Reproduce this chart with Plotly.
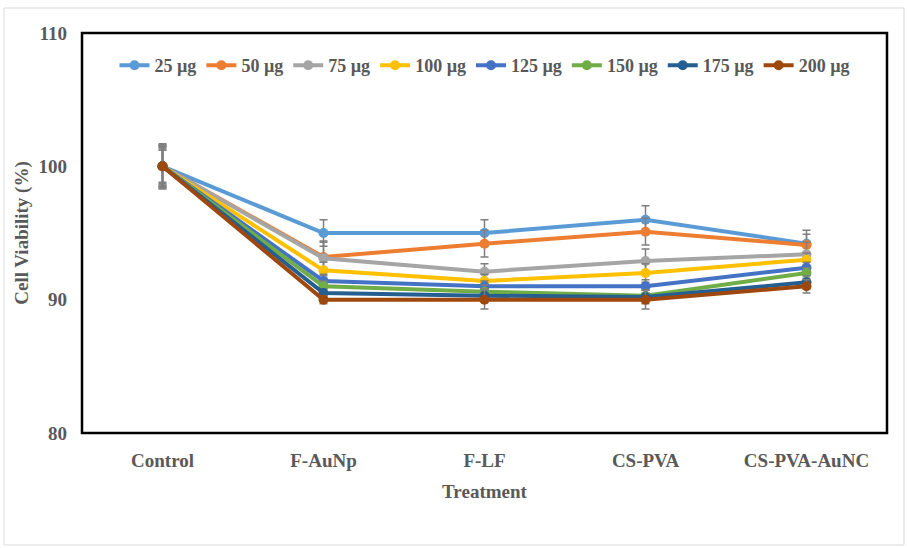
import plotly.graph_objects as go

treatments = ["Control", "F-AuNp", "F-LF", "CS-PVA", "CS-PVA-AuNC"]
doses = ["25 µg", "50 µg", "75 µg", "100 µg", "125 µg", "150 µg", "175 µg", "200 µg"]

viability_25 = [100, 95.0, 95.0, 96.0, 94.2]
viability_50 = [100, 93.2, 94.2, 95.1, 94.1]
viability_75 = [100, 93.1, 92.1, 92.9, 93.4]
viability_100 = [100, 92.2, 91.4, 92.0, 93.0]
viability_125 = [100, 91.4, 91.0, 91.0, 92.4]
viability_150 = [100, 91.0, 90.6, 90.3, 92.0]
viability_175 = [100, 90.5, 90.3, 90.2, 91.3]
viability_200 = [100, 90.0, 90.0, 90.0, 91.0]

err_25 = [1.5, 1.0, 1.0, 1.05, 1.0]
err_50 = [1.6, 1.1, 1.0, 1.0, 0.8]
err_75 = [1.4, 1.3, 0.6, 0.9, 0.9]
err_100 = [1.2, 0.6, 0.5, 0.7, 0.5]
err_125 = [1.3, 0.5, 0.4, 0.5, 0.4]
err_150 = [1.6, 0.4, 0.5, 0.4, 0.4]
err_175 = [1.5, 0.3, 0.5, 0.5, 0.5]
err_200 = [1.7, 0.3, 0.7, 0.7, 0.5]

series = [viability_25, viability_50, viability_75, viability_100,
          viability_125, viability_150, viability_175, viability_200]
errors = [err_25, err_50, err_75, err_100, err_125, err_150, err_175, err_200]
colors = ["#5B9BD5", "#ED7D31", "#A5A5A5", "#FFC000",
          "#4472C4", "#70AD47", "#255E91", "#9E480E"]

FONT = "Liberation Serif"
GRAY = "#595959"
SIZE = 19

fig = go.Figure()
for name, vals, errs, col in zip(doses, series, errors, colors):
    fig.add_trace(go.Scatter(
        x=treatments, y=vals, name=name,
        mode="lines+markers",
        line=dict(color=col, width=4),
        marker=dict(color=col, size=10),
        error_y=dict(type="data", array=errs, visible=True,
                     color="#7F7F7F", thickness=1.5, width=4),
    ))

fig.update_layout(
    width=907, height=548,
    margin=dict(l=82, r=20, t=33, b=115),
    paper_bgcolor="white", plot_bgcolor="white",
    font=dict(family=FONT, color=GRAY, size=SIZE, weight="bold"),
    showlegend=True,
    legend=dict(
        orientation="h", x=0.5, xanchor="center", y=0.965, yanchor="top",
        font=dict(family=FONT, color=GRAY, size=18, weight="bold"),
        bgcolor="rgba(0,0,0,0)", itemwidth=30, tracegroupgap=0,
    ),
    xaxis=dict(
        showgrid=False, zeroline=False, showline=False, ticks="",
        ticklabelstandoff=14,
        tickfont=dict(family=FONT, color=GRAY, size=SIZE, weight="bold"),
        title=dict(text="Treatment", standoff=14,
                   font=dict(family=FONT, color=GRAY, size=SIZE, weight="bold")),
        range=[-0.5, 4.5],
    ),
    yaxis=dict(
        range=[80, 110], tickvals=[80, 90, 100, 110],
        showgrid=False, zeroline=False, showline=False, ticks="",
        ticklabelstandoff=14,
        tickfont=dict(family=FONT, color=GRAY, size=SIZE, weight="bold"),
        title=dict(text="Cell Viability (%)", standoff=4,
                   font=dict(family=FONT, color=GRAY, size=SIZE, weight="bold")),
    ),
)

# plot frame
fig.add_shape(type="rect", xref="paper", yref="paper", x0=0, y0=0, x1=1, y1=1,
              line=dict(color="black", width=2.5), layer="above")
# outer chart border
fig.add_shape(type="rect", xref="paper", yref="paper",
              x0=-78 / 805, y0=-112 / 400, x1=1 + 17 / 805, y1=1 + 25 / 400,
              line=dict(color="#D9D9D9", width=1), layer="below")

fig.write_html("out.html")
